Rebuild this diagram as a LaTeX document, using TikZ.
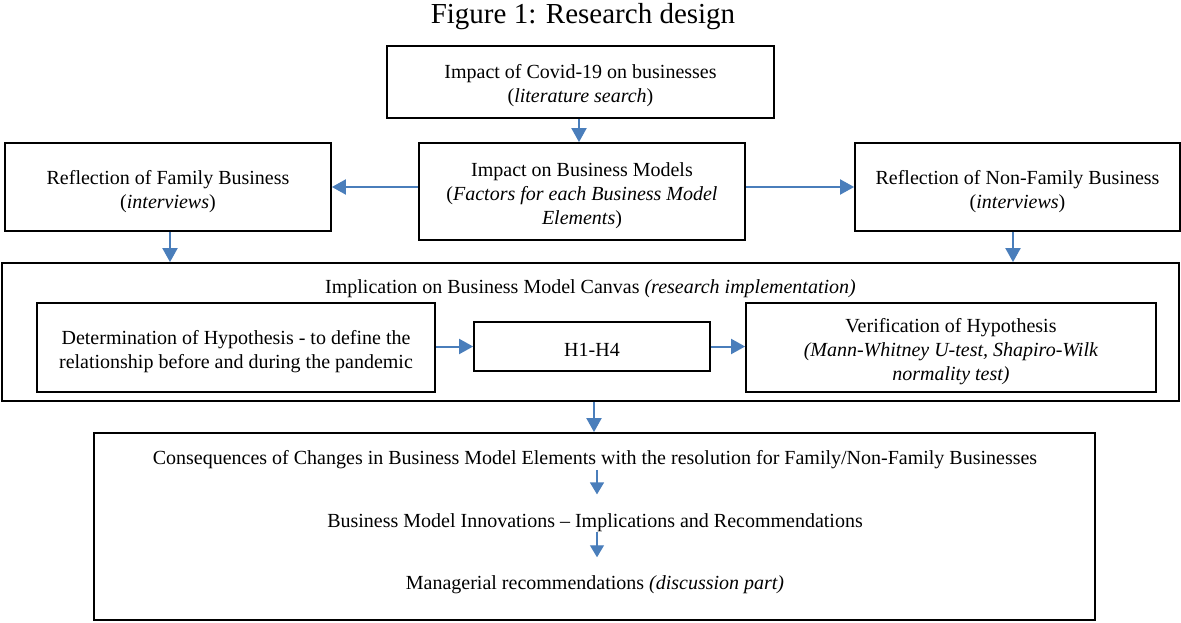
\documentclass[tikz,border=0pt]{standalone}
\usepackage{fontspec}
\setmainfont{Liberation Serif}
\usetikzlibrary{arrows.meta}
\definecolor{arrowblue}{HTML}{4A7EBB}
\newcommand{\diagfont}{\fontsize{20}{24}\selectfont}
\newcommand{\titlefont}{\fontsize{29}{33}\selectfont}
\begin{document}
\begin{tikzpicture}[x=1pt,y=-1pt,
  box/.style={draw=black, line width=1.8pt, rectangle, inner sep=0pt},
  txt/.style={inner sep=0pt, align=center, font=\diagfont},
  flow/.style={draw=arrowblue, line width=2pt,
               -{Triangle[length=14pt,width=15pt]}},
  subflow/.style={draw=arrowblue, line width=1.3pt,
               -{Triangle[length=12pt,width=14pt]}}]
\useasboundingbox (0,0) rectangle (1181,623);

% title
\node[inner sep=0pt, font=\titlefont] (title) at (583,17) {Figure 1: Research design};

% upper row: frames
\node[box, minimum width=387, minimum height=72] (lit) at (580.5,82) {};
\node[box, minimum width=326, minimum height=97] (bm) at (582,191.5) {};
\node[box, minimum width=326, minimum height=88] (fam) at (168,187) {};
\node[box, minimum width=325, minimum height=88] (nonfam) at (1017.5,187) {};
% upper row: texts
\node[txt] (littext) at (580.5,86)
  {Impact of Covid-19 on businesses\\(\textit{literature search})};
\node[txt] (bmtext) at (582,196)
  {Impact on Business Models\\(\textit{Factors for each Business Model}\\\textit{Elements})};
\node[txt] (famtext) at (168,192)
  {Reflection of Family Business\\(\textit{interviews})};
\node[txt] (nonfamtext) at (1017.5,192)
  {Reflection of Non-Family Business\\(\textit{interviews})};

% canvas frame with its inner steps
\node[box, minimum width=1177, minimum height=138] (canvas) at (590.5,332) {};
\node[txt] (canvastitle) at (590.5,289)
  {Implication on Business Model Canvas \textit{(research implementation)}};
\node[box, minimum width=398, minimum height=89] (hyp) at (236,347.5) {};
\node[box, minimum width=236, minimum height=49] (hh) at (592,346.5) {};
\node[box, minimum width=410, minimum height=89] (ver) at (951,347.5) {};
\node[txt] (hyptext) at (236,352)
  {Determination of Hypothesis - to define the\\relationship before and during the pandemic};
\node[txt] (hhtext) at (592,350) {H1-H4};
\node[txt] (vertext) at (951,352)
  {Verification of Hypothesis\\\textit{(Mann-Whitney U-test, Shapiro-Wilk}\\\textit{normality test)}};

% consequences frame
\node[box, minimum width=1001, minimum height=187] (cons) at (594.5,526.5) {};
\node[txt] (c1) at (595,460)
  {Consequences of Changes in Business Model Elements with the resolution for Family/Non-Family Businesses};
\node[txt] (c2) at (595,523)
  {Business Model Innovations -- Implications and Recommendations};
\node[txt] (c3) at (595,585)
  {Managerial recommendations \textit{(discussion part)}};

% connectors
\draw[flow] (lit.south -| 579,0) -- (bm.north -| 579,0);
\draw[flow] (bm.west |- fam.east) -- (fam.east);
\draw[flow] (bm.east |- nonfam.west) -- (nonfam.west);
\draw[flow] (fam.south -| 170,0) -- (canvas.north -| 170,0);
\draw[flow] (nonfam.south -| 1013,0) -- (canvas.north -| 1013,0);
\draw[flow] (hyp.east |- hh.west) -- (hh.west);
\draw[flow] (hh.east) -- (ver.west |- hh.east);
\draw[flow] (canvas.south -| 594,0) -- (cons.north -| 594,0);
\draw[subflow] (c1.south -| 597,0) ++(0,1) -- ++(0,24);
\draw[subflow] (c2.south -| 597,0) -- ++(0,25);
\end{tikzpicture}
\end{document}
